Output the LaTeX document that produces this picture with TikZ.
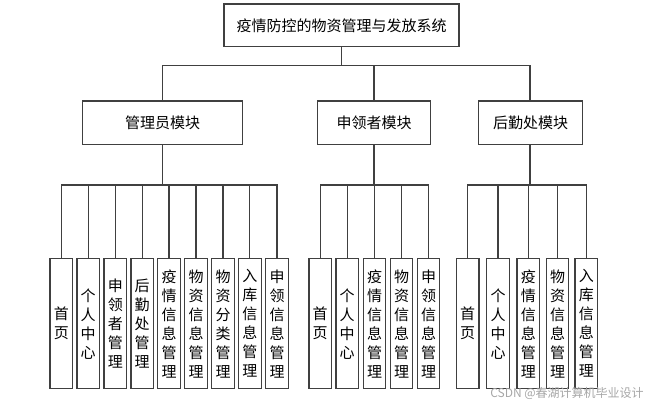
\documentclass[tikz,border=0pt]{standalone}
\usepackage{fontspec}
\setmainfont{Noto Sans CJK SC}
\begin{document}
\begin{tikzpicture}[x=0.75pt,y=-0.75pt,
  box/.style={draw=black!75,line width=0.9pt,fill=white,inner sep=0pt,align=center,
    font=\fontsize{11.25}{14.25}\selectfont},
  leaf/.style={box,minimum width=16.9pt,minimum height=97.5pt},
  conn/.style={draw=black!75,line width=0.8pt}]
\useasboundingbox (0,0) rectangle (656,407);
\node[box,minimum width=176.25pt,minimum height=32pt] (top) at (341.5,25.3) {疫情防控的物资管理与发放系统};
\node[box,minimum width=120pt,minimum height=32.5pt] (m1) at (162.7,122.7) {管理员模块};
\node[box,minimum width=85pt,minimum height=32.5pt] (m2) at (374,122.7) {申领者模块};
\node[box,minimum width=78pt,minimum height=32.5pt] (m3) at (530.7,122.7) {后勤处模块};
\coordinate (b0) at (341.5,65.7);
\coordinate (b1) at (162.7,185);
\coordinate (b2) at (374,185);
\coordinate (b3) at (530,185);
\draw[conn] (top.south) -- (b0);
\draw[conn] (m1.north) |- (b0);
\draw[conn] (m3.north -| b3) |- (b0);
\draw[conn] (m2.north) -- (m2.north |- b0);
\draw[conn] (m1.south) -- (b1);
\draw[conn] (m2.south) -- (b2);
\draw[conn] (m3.south -| b3) -- (b3);
% group 1
\foreach \i/\x/\t in {1/61.3/首\\页, 2/88.2/个\\人\\中\\心, 3/115.3/申\\领\\者\\管\\理, 4/142.2/后\\勤\\处\\管\\理,
  5/169/疫\\情\\信\\息\\管\\理, 6/196/物\\资\\信\\息\\管\\理, 7/223/物\\资\\分\\类\\管\\理,
  8/249.9/入\\库\\信\\息\\管\\理, 9/277/申\\领\\信\\息\\管\\理}{
  \node[leaf] (a\i) at (\x,323.7) {\t};
  \draw[conn] (a\i.north) |- (b1);
}
% group 2
\foreach \i/\x/\t in {1/320.2/首\\页, 2/347.2/个\\人\\中\\心, 3/374.5/疫\\情\\信\\息\\管\\理,
  4/401.5/物\\资\\信\\息\\管\\理, 5/428.5/申\\领\\信\\息\\管\\理}{
  \node[leaf] (c\i) at (\x,323.7) {\t};
  \draw[conn] (c\i.north) |- (b2);
}
% group 3
\foreach \i/\x/\t in {1/467.7/首\\页, 2/498/个\\人\\中\\心, 3/528.3/疫\\情\\信\\息\\管\\理,
  4/557.5/物\\资\\信\\息\\管\\理, 5/586.3/入\\库\\信\\息\\管\\理}{
  \node[leaf] (d\i) at (\x,323.7) {\t};
  \draw[conn] (d\i.north) |- (b3);
}
\node[text=black!35,font=\fontsize{9}{10}\selectfont,inner sep=0pt] (wm) at (567,393.5) {CSDN @春湖计算机毕业设计};
\end{tikzpicture}
\end{document}
